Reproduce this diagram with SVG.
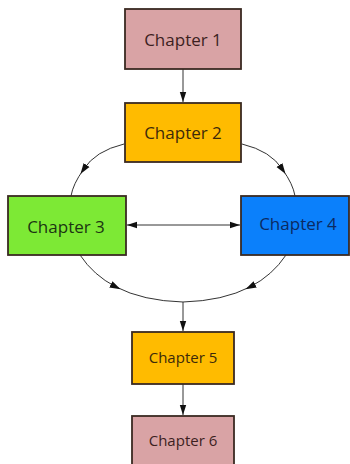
<svg xmlns="http://www.w3.org/2000/svg" width="350" height="464" viewBox="0 0 350 464">
<defs>
<style>
.box{stroke:#3a2a22;stroke-width:1.8}
.lbl{font-family:"Open Sans","Liberation Sans",sans-serif;font-size:17px;text-anchor:middle;dominant-baseline:central}
.sm{font-size:15px}
.edge{fill:none;stroke:#333;stroke-width:1}
</style>
<marker id="ah" viewBox="0 0 10 10" refX="10" refY="5" markerWidth="10" markerHeight="10" markerUnits="userSpaceOnUse" orient="auto">
<path d="M0,1.8 L10,5 L0,8.2 Z" fill="#111"/>
</marker>
<marker id="am" viewBox="0 0 10 10" refX="5" refY="5" markerWidth="11" markerHeight="11" markerUnits="userSpaceOnUse" orient="auto">
<path d="M0,1.8 L10,5 L0,8.2 Z" fill="#111"/>
</marker>
<marker id="as" viewBox="0 0 10 10" refX="0" refY="5" markerWidth="10" markerHeight="10" markerUnits="userSpaceOnUse" orient="auto">
<path d="M10,1.8 L0,5 L10,8.2 Z" fill="#111"/>
</marker>
</defs>
<rect width="350" height="464" fill="#fff"/>
<g id="connectors">
<path class="edge" d="M183,69 L183,102" marker-end="url(#ah)"/>
<path class="edge" d="M124,144 Q95,151 83.5,169.5 Q73,184 71,196" marker-mid="url(#am)"/>
<path class="edge" d="M242,144 Q271,151 282.5,169.5 Q293,184 295,196" marker-mid="url(#am)"/>
<path class="edge" d="M127,225 L240,225" marker-start="url(#as)" marker-end="url(#ah)"/>
<path class="edge" d="M80,255 Q93.5,275.25 115.7,286.8 Q142.85,300.9 183,302" marker-mid="url(#am)"/>
<path class="edge" d="M286,255 Q272.5,275.25 250.3,286.8 Q223.15,300.9 183,302" marker-mid="url(#am)"/>
<path class="edge" d="M183,302 L183,331" marker-end="url(#ah)"/>
<path class="edge" d="M183,384 L183,415" marker-end="url(#ah)"/>
</g>
<g id="chapter1">
<rect class="box" x="125" y="9" width="116" height="60" fill="#d9a3a5"/>
<text class="lbl" x="183" y="39" fill="#3d1f1f">Chapter 1</text>
</g>
<g id="chapter2">
<rect class="box" x="125" y="103" width="116" height="59" fill="#ffbb00"/>
<text class="lbl" x="183" y="132.5" fill="#3d2a0a">Chapter 2</text>
</g>
<g id="chapter3">
<rect class="box" x="8" y="196" width="118" height="59" fill="#7de935"/>
<text class="lbl" x="66" y="226" fill="#1c3512">Chapter 3</text>
</g>
<g id="chapter4">
<rect class="box" x="241" y="196" width="108" height="59" fill="#0b80fb"/>
<text class="lbl" x="298" y="223" fill="#0b2a62">Chapter 4</text>
</g>
<g id="chapter5">
<rect class="box" x="132" y="332" width="102" height="52" fill="#ffbb00"/>
<text class="lbl sm" x="183" y="356.5" fill="#3d2a0a">Chapter 5</text>
</g>
<g id="chapter6">
<rect class="box" x="132" y="416" width="102" height="52" fill="#d9a3a5"/>
<text class="lbl sm" x="183" y="439.5" fill="#3d1f1f">Chapter 6</text>
</g>
</svg>
